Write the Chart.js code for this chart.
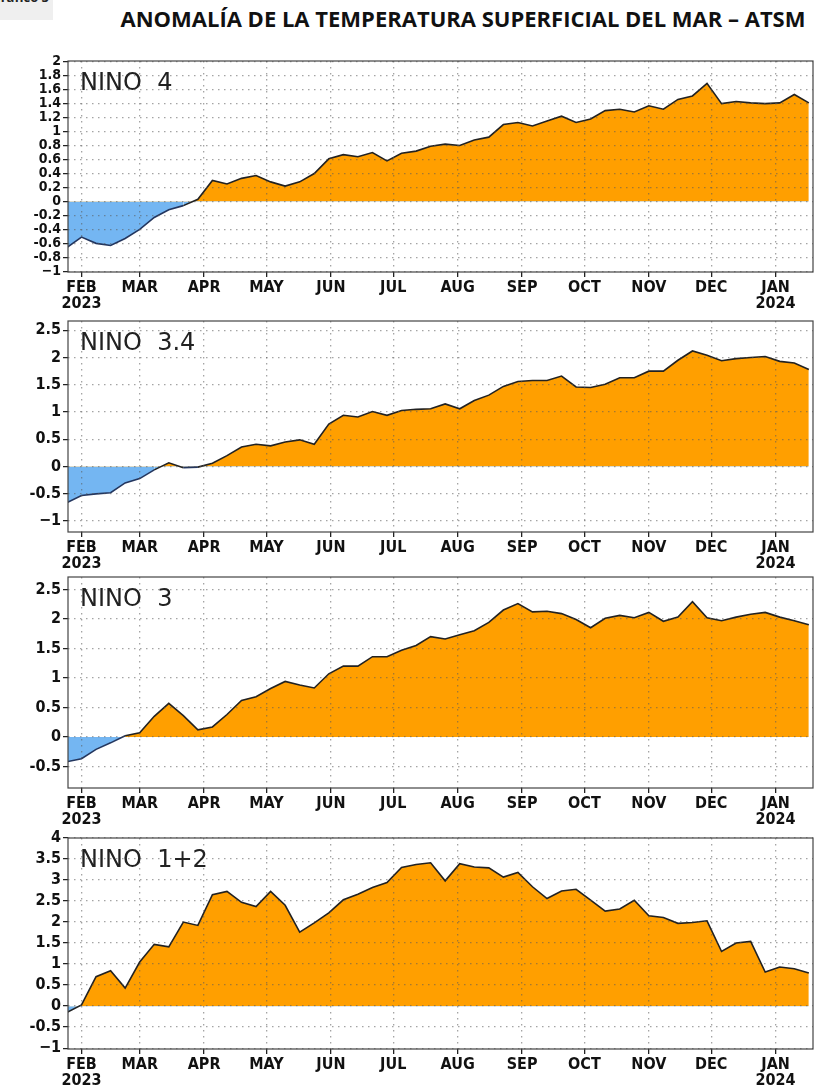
<!DOCTYPE html>
<html>
<head>
<meta charset="utf-8">
<script src="https://cdn.jsdelivr.net/npm/chart.js@4.4.1/dist/chart.umd.min.js"></script>
<style>
body{margin:0;background:#fff;overflow:hidden;width:828px;height:1090px;position:relative;}
#tag{position:absolute;left:0;top:0;width:53px;height:20px;background:#efefef;overflow:hidden;}
#tag span{position:absolute;right:4px;top:-12px;font:bold 13px 'Open Sans';color:#222;white-space:nowrap;}
#titulo{position:absolute;top:3px;left:0;width:926px;text-align:center;font:bold 22px 'Open Sans';color:#111;white-space:nowrap;}
canvas{position:absolute;left:0;}
</style>
</head>
<body>
<div id="tag"><span>Gráfico 5</span></div>
<div id="titulo">ANOMALÍA DE LA TEMPERATURA SUPERFICIAL DEL MAR – ATSM</div>
<canvas id="c1" width="828" height="266" style="top:51px"></canvas>
<canvas id="c2" width="828" height="266" style="top:311px"></canvas>
<canvas id="c3" width="828" height="266" style="top:567px"></canvas>
<canvas id="c4" width="828" height="266" style="top:828px"></canvas>
<script>
// semanas (miercoles) de la serie semanal
const semanas = ['2023-01-25','2023-02-01','2023-02-08','2023-02-15','2023-02-22',
  '2023-03-01','2023-03-08','2023-03-15','2023-03-22','2023-03-29',
  '2023-04-05','2023-04-12','2023-04-19','2023-04-26',
  '2023-05-03','2023-05-10','2023-05-17','2023-05-24','2023-05-31',
  '2023-06-07','2023-06-14','2023-06-21','2023-06-28',
  '2023-07-05','2023-07-12','2023-07-19','2023-07-26',
  '2023-08-02','2023-08-09','2023-08-16','2023-08-23','2023-08-30',
  '2023-09-06','2023-09-13','2023-09-20','2023-09-27',
  '2023-10-04','2023-10-11','2023-10-18','2023-10-25',
  '2023-11-01','2023-11-08','2023-11-15','2023-11-22','2023-11-29',
  '2023-12-06','2023-12-13','2023-12-20','2023-12-27',
  '2024-01-03','2024-01-10','2024-01-17'];

const mesesFechas = ['2023-02-01','2023-03-01','2023-04-01','2023-05-01','2023-06-01','2023-07-01',
  '2023-08-01','2023-09-01','2023-10-01','2023-11-01','2023-12-01','2024-01-01'];
const mesesEtiquetas = ['FEB','MAR','APR','MAY','JUN','JUL','AUG','SEP','OCT','NOV','DEC','JAN'];

const nino4 = [-0.66,-0.51,-0.60,-0.63,-0.53,-0.40,-0.23,-0.12,-0.06,0.03,0.30,0.25,0.33,0.37,0.28,0.22,
  0.28,0.40,0.61,0.67,0.64,0.70,0.58,0.69,0.72,0.79,0.82,0.80,0.88,0.92,1.10,1.13,1.08,1.15,1.22,1.13,
  1.18,1.30,1.32,1.28,1.37,1.32,1.46,1.51,1.69,1.40,1.43,1.41,1.40,1.41,1.53,1.41];
const nino34 = [-0.66,-0.53,-0.50,-0.48,-0.30,-0.22,-0.06,0.07,-0.02,-0.01,0.06,0.20,0.36,0.41,0.38,0.45,
  0.49,0.41,0.78,0.94,0.91,1.01,0.94,1.03,1.05,1.06,1.15,1.06,1.21,1.31,1.47,1.56,1.58,1.58,1.66,1.46,
  1.45,1.51,1.63,1.63,1.75,1.75,1.95,2.12,2.04,1.94,1.98,2.00,2.02,1.93,1.90,1.78];
const nino3 = [-0.42,-0.37,-0.21,-0.10,0.02,0.07,0.35,0.57,0.36,0.12,0.17,0.38,0.62,0.68,0.82,0.94,
  0.88,0.83,1.07,1.20,1.20,1.36,1.36,1.47,1.55,1.70,1.66,1.73,1.80,1.94,2.15,2.26,2.12,2.13,2.09,1.99,
  1.85,2.01,2.06,2.02,2.11,1.96,2.03,2.29,2.02,1.97,2.03,2.08,2.11,2.03,1.97,1.90];
const nino12 = [-0.15,0.03,0.70,0.84,0.43,1.05,1.47,1.41,2.00,1.92,2.65,2.73,2.47,2.37,2.73,2.40,
  1.76,1.98,2.22,2.53,2.66,2.82,2.94,3.30,3.37,3.41,2.98,3.39,3.31,3.29,3.07,3.18,2.84,2.56,2.74,2.78,
  2.52,2.26,2.31,2.52,2.15,2.11,1.97,1.99,2.03,1.30,1.50,1.54,0.81,0.93,0.89,0.79];

const ticksNino4 = [-1,-0.8,-0.6,-0.4,-0.2,0,0.2,0.4,0.6,0.8,1,1.2,1.4,1.6,1.8,2];
const ticksNino34 = [-1,-0.5,0,0.5,1,1.5,2,2.5];
const ticksNino3 = [-0.5,0,0.5,1,1.5,2,2.5];
const ticksNino12 = [-1,-0.5,0,0.5,1,1.5,2,2.5,3,3.5,4];

const paneles = [
  {id:'c1', nombre:'NINO  4', datos:nino4, ticks:ticksNino4, min:-1.01, max:2.01, fy:14},
  {id:'c2', nombre:'NINO  3.4', datos:nino34, ticks:ticksNino34, min:-1.2, max:2.67, fy:16},
  {id:'c3', nombre:'NINO  3', datos:nino3, ticks:ticksNino3, min:-0.865, max:2.71, fy:16},
  {id:'c4', nombre:'NINO  1+2', datos:nino12, ticks:ticksNino12, min:-1.02, max:4.0, fy:16}
];

const FUENTE = "'Liberation Sans Narrow', 'DejaVu Sans Condensed', Arial";
const T0 = Date.parse('2023-02-01');
function dia(s){ return (Date.parse(s) - T0) / 86400000; }
function etiqueta(v){
  if (v === -1) return '\u22121';
  return String(Math.round(v * 10) / 10);
}

const marco = {
  id: 'marco',
  afterDraw(chart) {
    const a = chart.chartArea, ctx = chart.ctx;
    ctx.save();
    ctx.strokeStyle = '#444';
    ctx.lineWidth = 1.2;
    ctx.strokeRect(a.left, a.top, a.right - a.left, a.bottom - a.top);
    ctx.font = '24px "DejaVu Sans"';
    ctx.fillStyle = '#222';
    ctx.textBaseline = 'top';
    ctx.fillText(chart.options.plugins.marco.nombre, a.left + 12, a.top + 11);
    ctx.restore();
  }
};

paneles.forEach(p => {
  const ctx = document.getElementById(p.id).getContext('2d');
  const grid = {
    color: 'rgba(90,90,90,0.55)', lineWidth: 1.3, z: 1,
    tickLength: 5, tickColor: '#222', tickWidth: 1.3, tickBorderDash: [4, 0]
  };
  new Chart(ctx, {
    type: 'line',
    data: {
      datasets: [{
        data: semanas.map((s, i) => ({x: dia(s), y: p.datos[i]})),
        borderColor: '#222',
        borderWidth: 1.6,
        pointRadius: 0,
        tension: 0,
        fill: {target: {value: 0}, above: '#FF9F00', below: '#74B6F2'},
        segment: {
          borderColor: c => (c.p0.parsed.y < 0 && c.p1.parsed.y <= 0.02) ? '#24365e' : '#222'
        }
      }]
    },
    options: {
      responsive: false,
      animation: false,
      devicePixelRatio: 1,
      layout: {padding: {top: 10, right: 15, left: 0, bottom: 0}},
      plugins: {legend: {display: false}, tooltip: {enabled: false}, marco: {nombre: p.nombre}},
      scales: {
        x: {
          type: 'linear', min: -6.5, max: 352,
          afterBuildTicks: s => { s.ticks = mesesFechas.map(d => ({value: dia(d)})); },
          afterFit: s => { s.height = 45; },
          border: {display: false, dash: [1.5, 4.5]},
          grid: grid,
          ticks: {
            autoSkip: false, maxRotation: 0, padding: 3, color: '#111',
            font: {family: FUENTE, weight: 'bold', size: 16, lineHeight: 1.0},
            callback: (v, i) => i === 0 ? ['FEB', '2023'] : (i === mesesEtiquetas.length - 1 ? ['JAN', '2024'] : mesesEtiquetas[i])
          }
        },
        y: {
          min: p.min, max: p.max,
          afterBuildTicks: s => { s.ticks = p.ticks.map(v => ({value: v})); },
          afterFit: s => { s.width = 68; },
          border: {display: false, dash: [1.5, 4.5]},
          grid: grid,
          ticks: {
            autoSkip: false, padding: 2, color: '#111',
            font: {family: FUENTE, weight: 'bold', size: p.fy, lineHeight: 1.0},
            callback: v => etiqueta(v)
          }
        }
      }
    },
    plugins: [marco]
  });
});
</script>
</body>
</html>
